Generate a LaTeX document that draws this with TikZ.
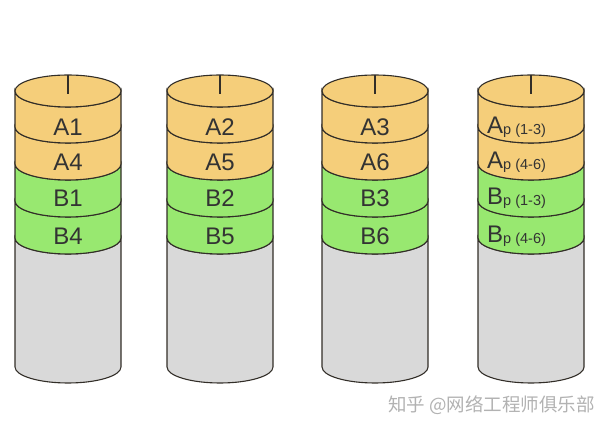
\documentclass[tikz,border=0pt]{standalone}
\usepackage{fontspec}
\setmainfont{Liberation Sans}
\newfontfamily\cjk{Noto Sans CJK SC}
\usepackage{tikz}
\usetikzlibrary{calc}

\definecolor{diskA}{RGB}{245,206,122}
\definecolor{diskB}{RGB}{152,232,112}
\definecolor{diskFree}{RGB}{217,217,217}
\definecolor{rim}{RGB}{50,46,40}

\tikzset{
    rimline/.style={draw=rim, line width=1.1pt},
    lbl/.style={text=black!80, font=\fontsize{24}{24}\selectfont, inner sep=0pt},
}

% smaller text after the parity letter
\newcommand{\parsub}[1]{\raisebox{-1pt}{\fontsize{14.5}{14.5}\selectfont #1}}

% one band between two levels of a disk (cx, top level, bottom level, colour)
\newcommand{\band}[4]{%
    \filldraw[rimline, fill=#4] (#1-53, #2) -- (#1-53, #3)
        arc[start angle=180, end angle=360, x radius=53, y radius=16]
        -- (#1+53, #2)
        arc[start angle=360, end angle=180, x radius=53, y radius=16] -- cycle;
}

\begin{document}
\begin{tikzpicture}[x=1pt, y=1pt]
        \useasboundingbox (0, 0) rectangle (610, 433);

        % four disks of the array
        \foreach \cx [count=\i] in {68, 220, 375, 531} {
            \coordinate (top\i) at (\cx, 342);
            \band{\cx}{195}{66}{diskFree}
            \band{\cx}{232}{195}{diskB}
            \band{\cx}{269}{232}{diskB}
            \band{\cx}{306}{269}{diskA}
            \band{\cx}{342}{306}{diskA}
            \filldraw[rimline, fill=diskA] (top\i) ellipse [x radius=53, y radius=16];
            \draw[rim, line width=1.6pt] ($(top\i)+(0,16)$) -- ($(top\i)+(0,-3)$);
        }

        % data blocks
        \foreach \cx/\a/\b/\c/\d [count=\i] in {68/A1/A4/B1/B4, 220/A2/A5/B2/B5, 375/A3/A6/B3/B6} {
            \node[lbl] (a\i) at (\cx, 306) {\a};
            \node[lbl] (aa\i) at (\cx, 271) {\b};
            \node[lbl] (b\i) at (\cx, 235) {\c};
            \node[lbl] (bb\i) at (\cx, 197) {\d};
        }

        % parity blocks
        \node[lbl, anchor=west] (pa1) at (487, 306) {A\parsub{p (1-3)}};
        \node[lbl, anchor=west] (pa2) at (487, 271) {A\parsub{p (4-6)}};
        \node[lbl, anchor=west] (pb1) at (487, 235) {B\parsub{p (1-3)}};
        \node[lbl, anchor=west] (pb2) at (487, 197) {B\parsub{p (4-6)}};

        \node[anchor=west, text=black!30, font=\cjk\fontsize{18.5}{18.5}\selectfont, inner sep=0pt] (mark) at (388, 28) {知乎 @网络工程师俱乐部};

    \end{tikzpicture}
\end{document}
